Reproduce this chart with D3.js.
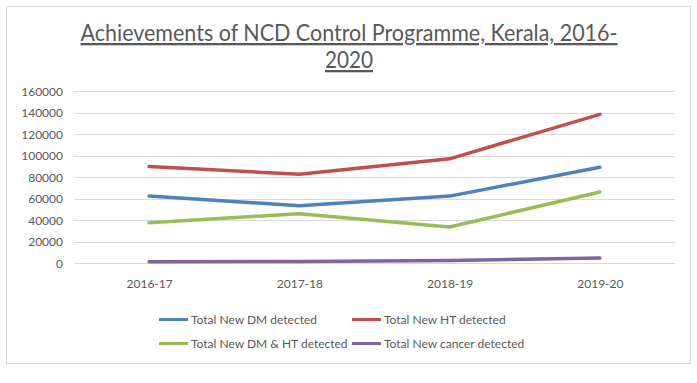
<!DOCTYPE html>
<html><head><meta charset="utf-8">
<script src="https://cdn.jsdelivr.net/npm/d3@7"></script>
<style>body{margin:0;background:#fff}svg{display:block}text{font-family:Lato,"Open Sans",sans-serif}</style>
</head><body><svg id="c" width="697" height="383"></svg>
<script>
const categories = ["2016-17","2017-18","2018-19","2019-20"];
const seriesNames = ["Total New DM detected","Total New HT detected","Total New DM & HT detected","Total New cancer detected"];
const dmValues = [62500, 53500, 62500, 89300];
const htValues = [90000, 82800, 97200, 138600];
const dmHtValues = [37800, 46100, 33800, 66300];
const cancerValues = [1500, 1700, 2600, 5000];
const yTicks = [0,20000,40000,60000,80000,100000,120000,140000,160000];
const colors = ["#4F81BD","#C0504D","#9BBB59","#8064A2"];
const series = [dmValues, htValues, dmHtValues, cancerValues];

const svg = d3.select("#c");
svg.append("rect").attr("x",6.5).attr("y",6.5).attr("width",684).attr("height",357)
  .attr("fill","#fff").attr("stroke","#D9D9D9").attr("stroke-width",1);

const x = d3.scalePoint().domain(categories).range([74,675]).padding(0.5);
const y = d3.scaleLinear().domain([0,160000]).range([263.3,91.3]);

// title
const t1 = svg.append("text").attr("x",349).attr("y",41).attr("text-anchor","middle")
  .attr("font-size",23).attr("fill","#595959").attr("text-decoration","underline")
  .attr("textLength",537).attr("lengthAdjust","spacingAndGlyphs")
  .text("Achievements of NCD Control Programme, Kerala, 2016-");
const t2 = svg.append("text").attr("x",349).attr("y",68).attr("text-anchor","middle")
  .attr("font-size",23).attr("fill","#595959").attr("text-decoration","underline")
  .attr("textLength",48).attr("lengthAdjust","spacingAndGlyphs")
  .text("2020");

// gridlines
svg.append("g").selectAll("line").data(yTicks).join("line")
  .attr("x1",74).attr("x2",675).attr("y1",d=>Math.round(y(d))+0.5).attr("y2",d=>Math.round(y(d))+0.5)
  .attr("stroke","#D9D9D9").attr("stroke-width",1);

// y axis labels
const yAxis = d3.axisLeft(y).tickValues(yTicks).tickFormat(d3.format("d")).tickSize(0).tickPadding(0);
const gy = svg.append("g").attr("transform","translate(63,0)").call(yAxis);
gy.select(".domain").remove();
gy.selectAll("text").attr("font-size",12).attr("fill","#595959").attr("font-family","Lato,'Open Sans',sans-serif");

// x axis labels
const xAxis = d3.axisBottom(x).tickSize(0).tickPadding(0);
const gx = svg.append("g").attr("transform","translate(0,279)").call(xAxis);
gx.select(".domain").remove();
gx.selectAll("text").attr("font-size",12).attr("fill","#595959").attr("font-family","Lato,'Open Sans',sans-serif");

// lines
const line = d3.line().x((d,i)=>x(categories[i])).y(d=>y(d));
series.forEach((vals,k)=>{
  svg.append("path").datum(vals).attr("d",line).attr("fill","none")
    .attr("stroke",colors[k]).attr("stroke-width",3.5)
    .attr("stroke-linejoin","round").attr("stroke-linecap","round");
});

// legend
const legPos = [[159,319.5],[352,319.5],[159,343.5],[352,343.5]];
seriesNames.forEach((name,k)=>{
  const [lx,ly] = legPos[k];
  svg.append("line").attr("x1",lx).attr("x2",lx+29).attr("y1",ly).attr("y2",ly)
    .attr("stroke",colors[k]).attr("stroke-width",3);
  svg.append("text").attr("x",lx+32).attr("y",ly).attr("dy","0.35em")
    .attr("font-size",12).attr("fill","#595959").text(name);
});
</script></body></html>
